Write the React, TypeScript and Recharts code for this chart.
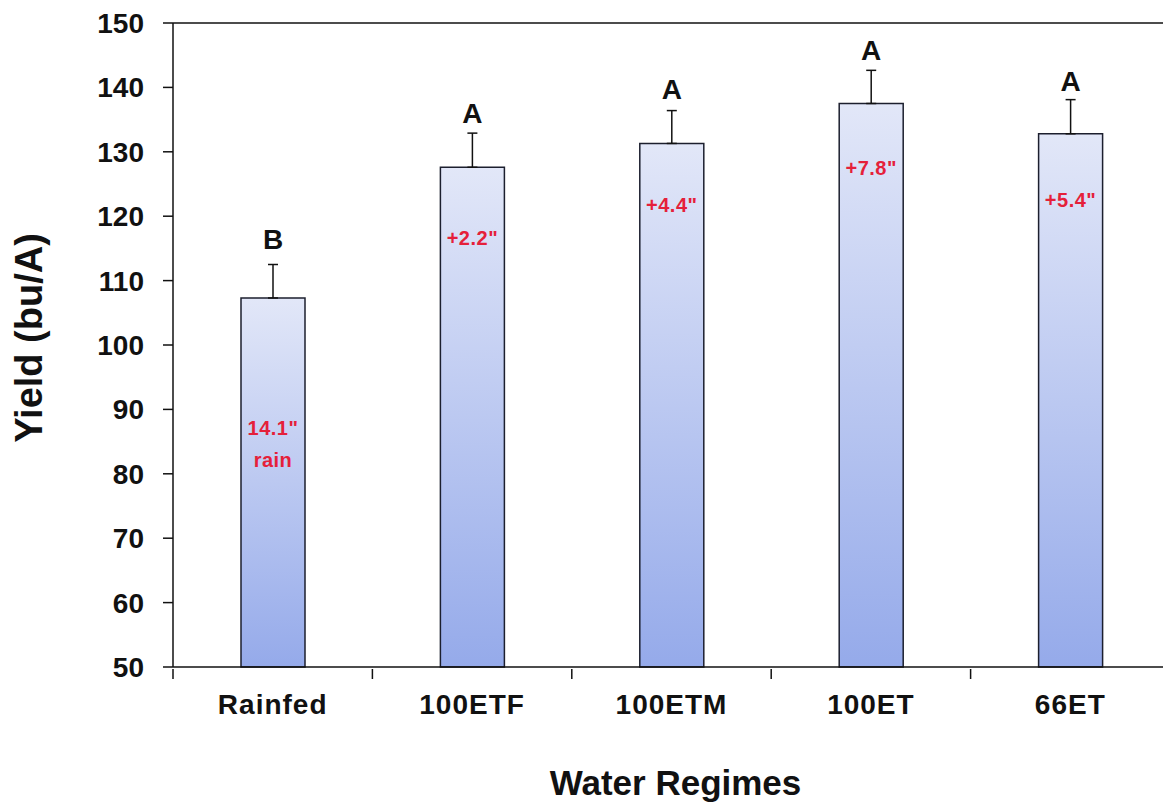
import React from "react";
import { BarChart, Bar, XAxis, YAxis, ErrorBar, LabelList, ReferenceLine } from "recharts";

// values
const categories = ["Rainfed", "100ETF", "100ETM", "100ET", "66ET"];
const yieldValues = [107.3, 127.6, 131.3, 137.5, 132.8];
const yieldErrors = [5.2, 5.3, 5.1, 5.15, 5.3];
const groupLetters = ["B", "A", "A", "A", "A"];
const waterNotes = [['14.1"', "rain"], ['+2.2"'], ['+4.4"'], ['+7.8"'], ['+5.4"']];
const yTicks = [50, 60, 70, 80, 90, 100, 110, 120, 130, 140, 150];

const data = categories.map((name, i) => ({
  name,
  yield: yieldValues[i],
  err: [0, yieldErrors[i]],
  letter: groupLetters[i],
}));

const FONT = '"Liberation Sans", Arial, sans-serif';
const INK = "#111";
const Y_MIN = 50;

// how far below the bar top the red note sits (px)
const noteDrop = [130, 71, 62, 64, 66];
// gap between error-bar top and the letter baseline (px)
const letterGap = [16, 10, 12, 10, 9];

const CategoryTick = (props: any) => {
  const { x, y, payload } = props;
  const half = payload?.offset ?? 99.7;
  return (
    <g>
      <line x1={x - half} y1={y} x2={x - half} y2={y + 10} stroke={INK} strokeWidth={1.5} />
      <text
        x={x}
        y={y + 25}
        dy="0.71em"
        textAnchor="middle"
        fontFamily={FONT}
        fontWeight="bold"
        fontSize={28}
        letterSpacing={1}
        fill={INK}
      >
        {payload.value}
      </text>
    </g>
  );
};

const LetterLabel = (props: any) => {
  const { x, y, width, height, index } = props;
  const pxPerUnit = height / (yieldValues[index] - Y_MIN);
  const errTop = y - yieldErrors[index] * pxPerUnit;
  return (
    <text
      x={x + width / 2}
      y={errTop - letterGap[index]}
      textAnchor="middle"
      fontFamily={FONT}
      fontWeight="bold"
      fontSize={28}
      fill={INK}
    >
      {groupLetters[index]}
    </text>
  );
};

const NoteLabel = (props: any) => {
  const { x, y, width, index } = props;
  const lines = waterNotes[index];
  return (
    <text
      x={x + width / 2}
      y={y + noteDrop[index] + 7}
      textAnchor="middle"
      fontFamily={FONT}
      fontWeight="bold"
      fontSize={20}
      letterSpacing={0.5}
      fill="#e5203a"
    >
      {lines.map((t, k) => (
        <tspan key={k} x={x + width / 2} dy={k === 0 ? 0 : 32}>
          {t}
        </tspan>
      ))}
    </text>
  );
};

export default function App() {
  return (
    <div
      style={{
        position: "absolute",
        left: 0,
        top: 0,
        width: 1163,
        height: 812,
        overflow: "hidden",
        background: "#fff",
      }}
    >
      <BarChart
        width={1200}
        height={812}
        data={data}
        margin={{ top: 23, right: 30, left: 0, bottom: 0 }}
        barCategoryGap={0}
      >
        <defs>
          <linearGradient id="barFill" x1="0" y1="0" x2="0" y2="1">
            <stop offset="0%" stopColor="#e2e7f8" />
            <stop offset="100%" stopColor="#95aaea" />
          </linearGradient>
        </defs>
        <XAxis
          dataKey="name"
          height={145}
          tickLine={false}
          tickSize={0}
          axisLine={{ stroke: INK, strokeWidth: 1.5 }}
          tick={<CategoryTick />}
          interval={0}
          label={{
            content: (p: any) => {
              const vb = p.viewBox;
              return (
                <text
                  x={vb.x + vb.width / 2 + 4}
                  y={vb.y + 128}
                  textAnchor="middle"
                  fontFamily={FONT}
                  fontWeight="bold"
                  fontSize={35}
                  fill={INK}
                >
                  Water Regimes
                </text>
              );
            },
          }}
        />
        <YAxis
          type="number"
          domain={[50, 150]}
          ticks={yTicks}
          interval={0}
          width={173}
          tickSize={10}
          tickMargin={19}
          axisLine={{ stroke: INK, strokeWidth: 1.5 }}
          tickLine={{ stroke: INK, strokeWidth: 1.5 }}
          tick={{ fontFamily: FONT, fontWeight: "bold", fontSize: 28, fill: INK }}
          label={{
            content: (p: any) => {
              const vb = p.viewBox;
              const cy = vb.y + vb.height / 2 - 7;
              return (
                <text
                  x={29}
                  y={cy}
                  transform={`rotate(-90 29 ${cy})`}
                  textAnchor="middle"
                  dominantBaseline="central"
                  fontFamily={FONT}
                  fontWeight="bold"
                  fontSize={38}
                  fill={INK}
                >
                  Yield (bu/A)
                </text>
              );
            },
          }}
        />
        <ReferenceLine y={150} stroke={INK} strokeWidth={1.5} />
        <Bar
          dataKey="yield"
          barSize={64}
          fill="url(#barFill)"
          stroke="#1c1f2e"
          strokeWidth={1.5}
          isAnimationActive={false}
        >
          <ErrorBar dataKey="err" width={5} stroke={INK} strokeWidth={1.5} direction="y" />
          <LabelList dataKey="letter" content={<LetterLabel />} />
          <LabelList dataKey="yield" content={<NoteLabel />} />
        </Bar>
      </BarChart>
    </div>
  );
}
